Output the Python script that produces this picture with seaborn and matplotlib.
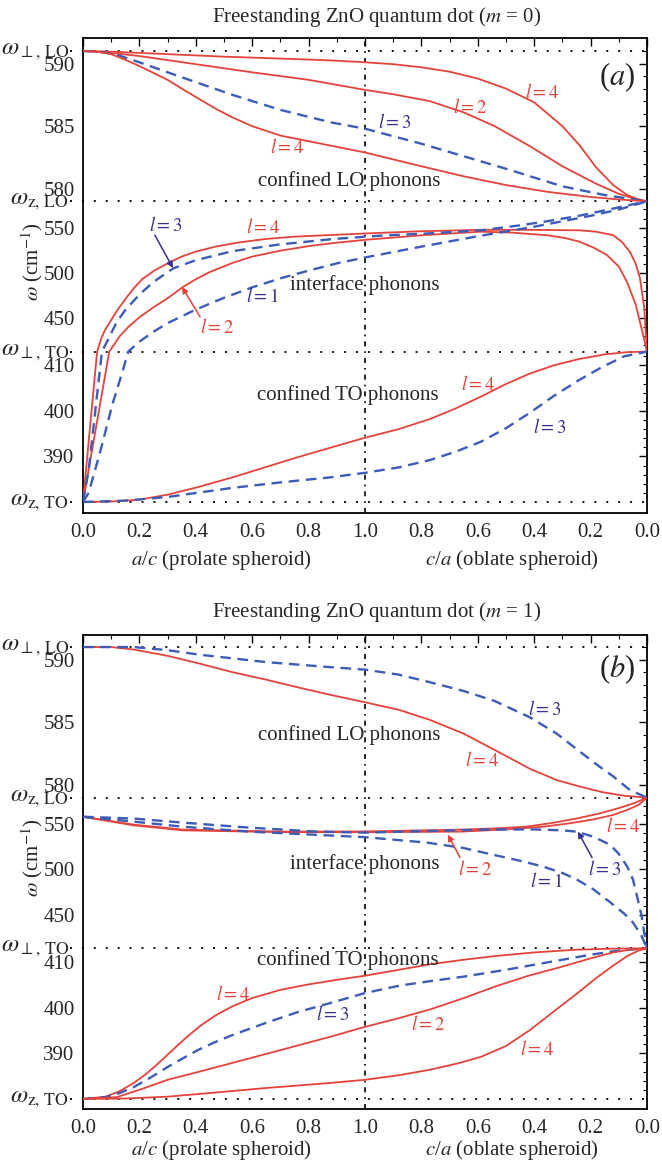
import numpy as np
import matplotlib
matplotlib.use("Agg")
import matplotlib.pyplot as plt
import seaborn as sns
from matplotlib.transforms import blended_transform_factory as btf

# ---------------- data ----------------
W_PERP_LO, W_Z_LO, W_PERP_TO, W_Z_TO = 591.0, 579.0, 413.0, 380.0

x_ticks = [0.0, 0.2, 0.4, 0.6, 0.8, 1.0, 1.2, 1.4, 1.6, 1.8, 2.0]
x_ticklabels = ["0.0", "0.2", "0.4", "0.6", "0.8", "1.0", "0.8", "0.6", "0.4", "0.2", "0.0"]
y_ticks = [390, 400, 410, 450, 500, 550, 580, 585, 590]

# panel (a), m = 0  -- x: 0..1 = a/c (prolate), 1..2 = reversed c/a (oblate)
a_lo_r4_top_x = [0, 0.1, 0.3, 0.5, 0.7, 0.88, 1.0, 1.1, 1.2, 1.3, 1.4, 1.5, 1.6, 1.7, 1.76, 1.82, 1.88, 1.93, 1.97, 2.0]
a_lo_r4_top_y = [591, 590.95, 590.75, 590.55, 590.4, 590.25, 590.1, 589.95, 589.7, 589.35, 588.8, 588.0, 586.9, 585.0, 583.5, 581.7, 580.3, 579.5, 579.15, 579]
a_lo_r2_x = [0, 0.1, 0.2, 0.4, 0.6, 0.8, 1.0, 1.1, 1.23, 1.35, 1.46, 1.585, 1.7, 1.82, 1.9, 1.95, 2.0]
a_lo_r2_y = [591, 590.85, 590.6, 589.95, 589.3, 588.7, 587.9, 587.55, 587.0, 586.1, 585.0, 583.4, 581.8, 580.4, 579.6, 579.25, 579]
a_lo_b3_x = [0, 0.06, 0.12, 0.2, 0.3, 0.53, 0.7, 0.88, 1.0, 1.2, 1.35, 1.5, 1.7, 1.85, 2.0]
a_lo_b3_y = [591, 590.95, 590.7, 590.1, 589.3, 587.5, 586.3, 585.3, 584.8, 583.6, 582.6, 581.6, 580.2, 579.5, 579]
a_lo_r4_low_x = [0, 0.05, 0.1, 0.15, 0.2, 0.25, 0.3, 0.35, 0.41, 0.47, 0.53, 0.6, 0.7, 0.8, 0.9, 1.0, 1.1, 1.2, 1.35, 1.5, 1.65, 1.8, 1.9, 2.0]
a_lo_r4_low_y = [591, 590.95, 590.75, 590.3, 589.8, 589.25, 588.7, 588.0, 587.2, 586.4, 585.7, 585.0, 584.25, 583.8, 583.35, 582.9, 582.35, 581.8, 581.0, 580.3, 579.75, 579.35, 579.15, 579]

a_if_r4_x = [0, 0.05, 0.065, 0.08, 0.1, 0.12, 0.15, 0.18, 0.21, 0.25, 0.3, 0.35, 0.4, 0.47, 0.55, 0.65, 0.75, 0.89, 1.0, 1.2, 1.41, 1.6, 1.76, 1.82, 1.88, 1.91, 1.94, 1.96, 1.975, 1.99, 2.0]
a_if_r4_y = [380, 413, 428, 438, 448, 458, 471, 483, 493, 502, 510.5, 518, 523.5, 529, 533.5, 537.5, 540, 542, 543.5, 546, 547.5, 547.5, 547, 545.5, 541.6, 534.5, 523, 510, 494, 462, 413]
a_if_r2_x = [0, 0.093, 0.13, 0.16, 0.2, 0.25, 0.3, 0.355, 0.4, 0.45, 0.53, 0.6, 0.7, 0.8, 0.89, 1.0, 1.2, 1.41, 1.52, 1.645, 1.71, 1.76, 1.81, 1.858, 1.9, 1.929, 1.96, 1.986, 2.0]
a_if_r2_y = [380, 413, 430, 440, 451, 462, 472, 484.5, 493, 501, 511, 518, 524.5, 529.5, 533, 536.5, 541.5, 545.5, 544.5, 541.6, 538.5, 534.5, 528, 519.7, 507, 490, 465, 431.7, 413]
a_if_b3_x = [0, 0.02, 0.04, 0.067, 0.09, 0.12, 0.15, 0.2, 0.25, 0.32, 0.4, 0.53, 0.7, 0.89, 1.05, 1.25, 1.41, 1.55, 1.645, 1.75, 1.88, 2.0]
a_if_b3_y = [380, 387, 398, 413, 427, 446, 459, 476, 490, 505, 514, 524, 531.5, 537.5, 541, 544, 547, 552.5, 557, 562.5, 571, 579]
a_if_b1_x = [0, 0.02, 0.06, 0.106, 0.142, 0.16, 0.2, 0.25, 0.3, 0.4, 0.5, 0.6, 0.7, 0.8, 0.9, 1.0, 1.2, 1.4, 1.6, 1.8, 1.9, 2.0]
a_if_b1_y = [380, 382, 390.8, 401.8, 409, 413, 424, 435, 444.5, 459.5, 472.5, 484, 494, 502.5, 510.5, 517, 529, 540.5, 551, 563, 570, 579]

a_to_r4_x = [0, 0.1, 0.2, 0.3, 0.41, 0.53, 0.65, 0.76, 0.876, 1.0, 1.12, 1.23, 1.32, 1.41, 1.5, 1.585, 1.67, 1.76, 1.85, 1.93, 2.0]
a_to_r4_y = [380, 380.1, 380.5, 381.6, 383.3, 385.4, 387.7, 389.8, 391.9, 394.1, 396, 398.2, 400.5, 403.1, 405.9, 408.2, 410.0, 411.4, 412.4, 412.9, 413]
a_to_b3_x = [0, 0.15, 0.3, 0.53, 0.7, 0.876, 1.0, 1.12, 1.23, 1.32, 1.41, 1.5, 1.585, 1.67, 1.76, 1.84, 1.92, 2.0]
a_to_b3_y = [380, 380.3, 381.1, 383.1, 384.3, 385.4, 386.4, 387.6, 389.2, 391, 393.2, 396.2, 399.6, 403.3, 406.8, 409.6, 412, 413]

# panel (b), m = 1
b_lo_r4_x = [0, 0.1, 0.18, 0.3, 0.41, 0.53, 0.65, 0.76, 0.876, 1.0, 1.12, 1.23, 1.35, 1.46, 1.585, 1.68, 1.76, 1.84, 1.92, 2.0]
b_lo_r4_y = [591, 591, 590.8, 590.3, 589.7, 589.0, 588.4, 587.8, 587.2, 586.6, 586.0, 585.2, 584.1, 582.8, 581.3, 580.4, 579.9, 579.45, 579.15, 579]
b_lo_b3_x = [0, 0.18, 0.3, 0.41, 0.53, 0.65, 0.876, 1.0, 1.12, 1.23, 1.35, 1.46, 1.585, 1.68, 1.76, 1.83, 1.88, 1.94, 2.0]
b_lo_b3_y = [591, 591, 590.75, 590.4, 590.1, 589.8, 589.4, 589.2, 588.8, 588.2, 587.5, 586.7, 585.4, 584.1, 582.7, 581.5, 580.7, 579.6, 579]

b_if_r4_x = [0, 0.18, 0.355, 0.71, 1.0, 1.34, 1.45, 1.57, 1.66, 1.75, 1.83, 1.90, 1.95, 2.0]
b_if_r4_y = [558, 549.3, 543.8, 541.6, 541.8, 543.8, 545, 547, 551, 556, 561.5, 567.5, 572.5, 579]
b_if_r2_x = [0, 0.18, 0.355, 0.71, 1.0, 1.34, 1.5, 1.63, 1.72, 1.81, 1.88, 1.93, 1.97, 2.0]
b_if_r2_y = [558, 548.5, 543, 541, 541, 541.6, 544, 547, 550.5, 555, 560, 565.5, 571, 579]
b_if_b3_x = [0, 0.18, 0.355, 0.59, 0.83, 1.0, 1.45, 1.6, 1.7, 1.75, 1.81, 1.87, 1.9, 1.93, 1.95, 1.965, 1.98, 1.99, 2.0]
b_if_b3_y = [558, 556, 551.5, 546, 541.6, 540.5, 544, 544, 543, 541.6, 536, 527, 517, 503, 489, 470, 450, 430.6, 413]
b_if_b1_x = [0, 0.18, 0.355, 0.59, 1.0, 1.22, 1.35, 1.45, 1.55, 1.63, 1.7, 1.75, 1.81, 1.87, 1.92, 1.95, 1.98, 2.0]
b_if_b1_y = [558, 552.6, 547, 541.6, 535.5, 529.5, 523.5, 516.4, 509.5, 503.2, 496, 489, 478, 463.6, 451, 441.6, 427, 413]

b_to_r4top_x = [0, 0.08, 0.13, 0.18, 0.22, 0.26, 0.3, 0.34, 0.38, 0.42, 0.47, 0.53, 0.6, 0.7, 0.8, 0.9, 1.0, 1.12, 1.23, 1.35, 1.46, 1.6, 1.75, 1.9, 2.0]
b_to_r4top_y = [380, 380.5, 381.7, 383.5, 385.3, 387.4, 389.7, 392, 394.2, 396.2, 398.3, 400.3, 402.1, 403.9, 405.1, 406.1, 407.0, 408.3, 409.5, 410.5, 411.3, 412.1, 412.7, 412.95, 413]
b_to_b3_x = [0, 0.08, 0.13, 0.18, 0.24, 0.3, 0.36, 0.41, 0.47, 0.53, 0.65, 0.76, 0.876, 1.0, 1.12, 1.23, 1.35, 1.5, 1.7, 1.8, 1.9, 2.0]
b_to_b3_y = [380, 380.4, 381.3, 382.6, 384.7, 387, 389.1, 390.8, 392.5, 394, 396.7, 399, 401, 403.2, 404.8, 405.8, 406.8, 408.3, 410.5, 411.6, 412.5, 413]
b_to_r2_x = [0, 0.12, 0.2, 0.3, 0.42, 0.53, 0.7, 0.876, 1.0, 1.12, 1.23, 1.35, 1.46, 1.58, 1.7, 1.8, 1.88, 1.95, 2.0]
b_to_r2_y = [380, 380.4, 382, 384.2, 386.1, 387.9, 390.7, 393.6, 395.8, 397.7, 399.6, 402.1, 404.6, 407, 409, 410.8, 412.1, 412.8, 413]
b_to_r4low_x = [0, 0.15, 0.3, 0.45, 0.65, 0.876, 1.0, 1.12, 1.23, 1.33, 1.41, 1.5, 1.585, 1.67, 1.76, 1.82, 1.88, 1.93, 1.97, 2.0]
b_to_r4low_y = [380, 380.1, 380.5, 381.3, 382.4, 383.5, 384.2, 385.2, 386.4, 387.8, 389.2, 391.6, 395.1, 399.2, 403.5, 406.5, 409.2, 411.3, 412.5, 413]

# ---------------- style ----------------
sns.set_style("white")
plt.rcParams["font.family"] = ["Liberation Serif", "DejaVu Serif"]
plt.rcParams["mathtext.fontset"] = "stix"

RED = "#e4433b"
BLUE = "#3d5cb8"
BLUE_TXT = "#3b2f8e"
DASH = (0, (4.5, 2.8))
FS = 15

TO_W = W_PERP_TO - W_Z_TO
IF_W = W_Z_LO - W_PERP_TO
LO_W = W_PERP_LO - W_Z_LO


def fwd(w):
    w = np.asarray(w, dtype=float)
    return np.where(w < W_PERP_TO, (w - W_Z_TO) / TO_W,
                    np.where(w < W_Z_LO, 1 + (w - W_PERP_TO) / IF_W,
                             2 + (w - W_Z_LO) / LO_W))


def inv(u):
    u = np.asarray(u, dtype=float)
    return np.where(u < 1, W_Z_TO + TO_W * u,
                    np.where(u < 2, W_PERP_TO + IF_W * (u - 1),
                             W_Z_LO + LO_W * (u - 2)))


W, H = 662, 1164
fig = plt.figure(figsize=(W / 100, H / 100), dpi=100)
ax_a = fig.add_axes([83 / W, 1 - 513 / H, 564 / W, 475 / H])
ax_b = fig.add_axes([83 / W, 1 - 1109 / H, 564 / W, 474 / H])

minor_y = [v for v in range(382, 413, 2) if v not in y_ticks] + \
          [v for v in range(420, 579, 10) if v not in y_ticks] + \
          [v for v in range(581, 592) if v not in y_ticks]
minor_x = list(np.arange(0.1, 2.0, 0.2))


def setup(ax, ylim, xlab_y):
    ax.set_yscale("function", functions=(fwd, inv))
    ax.set_xlim(0, 2)
    ax.set_ylim(*ylim)
    ax.set_xticks(x_ticks)
    ax.set_xticklabels(x_ticklabels)
    ax.set_xticks(minor_x, minor=True)
    ax.set_yticks(y_ticks)
    ax.set_yticklabels([str(v) for v in y_ticks])
    ax.set_yticks(minor_y, minor=True)
    ax.tick_params(which="both", direction="in", top=True, right=True, color="k")
    ax.tick_params(which="major", length=6, width=1.0, labelsize=FS, pad=6)
    ax.tick_params(which="minor", length=3, width=0.8)
    ax.tick_params(axis="x", pad=7)
    for s in ax.spines.values():
        s.set_color("k")
        s.set_linewidth(1.3)
    # reference lines
    for w in (W_PERP_LO, W_Z_LO, W_PERP_TO, W_Z_TO):
        ax.plot([-0.046, 2], [w, w], color="k", lw=1.3, ls=(0, (1.1, 5.5)), clip_on=False, zorder=1)
    ax.plot([1, 1], list(ylim), color="k", lw=1.2, ls=(0, (3, 3, 1, 3)), zorder=1)
    tr = btf(ax.transAxes, ax.transData)
    for w, txt in ((W_PERP_LO, r"$\omega_{\perp,\,\mathrm{LO}}$"), (W_Z_LO, r"$\omega_{\mathrm{z},\,\mathrm{LO}}$"),
                   (W_PERP_TO, r"$\omega_{\perp,\,\mathrm{TO}}$"), (W_Z_TO, r"$\omega_{\mathrm{z},\,\mathrm{TO}}$")):
        ax.text(-0.025, w, txt, transform=tr, ha="right", va="center", fontsize=18)
    trx = btf(ax.transData, ax.transAxes)
    ax.text(0.49, xlab_y, r"$a$/$c$ (prolate spheroid)", transform=trx, ha="center", va="center", fontsize=FS)
    ax.text(1.52, xlab_y, r"$c$/$a$ (oblate spheroid)", transform=trx, ha="center", va="center", fontsize=FS)


def curve(ax, x, y, kind):
    if kind == "r":
        sns.lineplot(x=x, y=y, ax=ax, color=RED, lw=1.3, estimator=None, sort=False, zorder=3)
    else:
        sns.lineplot(x=x, y=y, ax=ax, color=BLUE, lw=1.7, linestyle=DASH, estimator=None, sort=False, zorder=3)


def lab(ax, x, y, n, color):
    ax.text(x, y, rf"$l = {n}$", color=color, fontsize=13.5, ha="center", va="center", zorder=5)


def arrow(ax, tail, head, color):
    ax.annotate("", xy=head, xytext=tail,
                arrowprops=dict(arrowstyle="-|>", color=color, lw=1.1, mutation_scale=9, shrinkA=0, shrinkB=0),
                zorder=5)


def finish(ax):
    ax.set_xlabel("")
    ax.set_ylabel(r"$\omega$ (cm$^{-1}$)", fontsize=FS)
    ax.yaxis.set_label_coords(-0.068, 0.53)


# ---------------- panel (a) ----------------
setup(ax_a, (377.58, 592.04), -0.098)
for x, y, k in ((a_lo_r4_top_x, a_lo_r4_top_y, "r"), (a_lo_r2_x, a_lo_r2_y, "r"), (a_lo_b3_x, a_lo_b3_y, "b"),
                (a_lo_r4_low_x, a_lo_r4_low_y, "r"), (a_if_r4_x, a_if_r4_y, "r"), (a_if_r2_x, a_if_r2_y, "r"),
                (a_if_b3_x, a_if_b3_y, "b"), (a_if_b1_x, a_if_b1_y, "b"), (a_to_r4_x, a_to_r4_y, "r"),
                (a_to_b3_x, a_to_b3_y, "b")):
    curve(ax_a, x, y, k)
finish(ax_a)

lab(ax_a, 1.628, 587.7, 4, RED)
lab(ax_a, 1.372, 586.5, 2, RED)
lab(ax_a, 1.106, 585.3, 3, BLUE_TXT)
lab(ax_a, 0.723, 583.3, 4, RED)
ax_a.text(0.943, 580.6, "confined LO phonons", ha="center", va="center", fontsize=FS)
ax_a.text(1.894, 588.9, r"($a$)", ha="center", va="center", fontsize=22)
lab(ax_a, 0.294, 552.6, 3, BLUE_TXT)
arrow(ax_a, (0.255, 541.6), (0.319, 505.4), BLUE_TXT)
lab(ax_a, 0.638, 550.4, 4, RED)
lab(ax_a, 0.638, 473.5, 1, BLUE_TXT)
lab(ax_a, 0.475, 439.4, 2, RED)
arrow(ax_a, (0.415, 451.5), (0.351, 484.5), RED)
ax_a.text(1.0, 486.7, "interface phonons", ha="center", va="center", fontsize=FS)
ax_a.text(0.94, 403.5, "confined TO phonons", ha="center", va="center", fontsize=FS)
lab(ax_a, 1.40, 405.7, 4, RED)
lab(ax_a, 1.656, 396.4, 3, BLUE_TXT)

# ---------------- panel (b) ----------------
setup(ax_b, (377.8, 591.96), -0.086)
for x, y, k in ((b_lo_r4_x, b_lo_r4_y, "r"), (b_lo_b3_x, b_lo_b3_y, "b"), (b_if_r4_x, b_if_r4_y, "r"),
                (b_if_r2_x, b_if_r2_y, "r"), (b_if_b3_x, b_if_b3_y, "b"), (b_if_b1_x, b_if_b1_y, "b"),
                (b_to_r4top_x, b_to_r4top_y, "r"), (b_to_b3_x, b_to_b3_y, "b"), (b_to_r2_x, b_to_r2_y, "r"),
                (b_to_r4low_x, b_to_r4low_y, "r")):
    curve(ax_b, x, y, k)
finish(ax_b)

lab(ax_b, 1.638, 586.0, 3, BLUE_TXT)
ax_b.text(0.943, 584.0, "confined LO phonons", ha="center", va="center", fontsize=FS)
lab(ax_b, 1.415, 582.0, 4, RED)
ax_b.text(1.894, 589.2, r"($b$)", ha="center", va="center", fontsize=22)
lab(ax_b, 1.915, 547.1, 4, RED)
lab(ax_b, 1.39, 499.9, 2, RED)
arrow(ax_b, (1.337, 513), (1.294, 538.3), RED)
lab(ax_b, 1.851, 499.9, 3, BLUE_TXT)
arrow(ax_b, (1.805, 513), (1.755, 541.6), BLUE_TXT)
lab(ax_b, 1.645, 486.7, 1, BLUE_TXT)
ax_b.text(1.0, 505.4, "interface phonons", ha="center", va="center", fontsize=FS)
ax_b.text(0.94, 410.4, "confined TO phonons", ha="center", va="center", fontsize=FS)
lab(ax_b, 0.532, 402.9, 4, RED)
lab(ax_b, 0.887, 398.5, 3, BLUE_TXT)
lab(ax_b, 1.223, 396.3, 2, RED)
lab(ax_b, 1.61, 390.8, 4, RED)

fig.text(377 / W, 1 - 17 / H, r"Freestanding ZnO quantum dot ($m$ = 0)", ha="center", va="center", fontsize=FS)
fig.text(377 / W, 1 - 612 / H, r"Freestanding ZnO quantum dot ($m$ = 1)", ha="center", va="center", fontsize=FS)

fig.savefig("out.png", dpi=100, facecolor="white")
